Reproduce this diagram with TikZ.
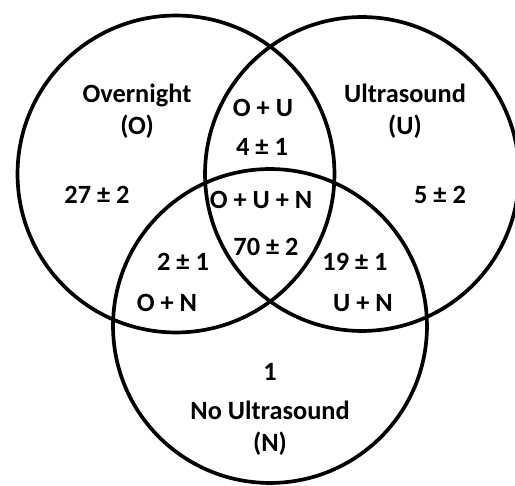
\documentclass[tikz,border=0pt]{standalone}
\usepackage{fontspec}
\setmainfont{Carlito}
\tikzset{
    setlabel/.style={font=\fontsize{15}{18}\selectfont\bfseries, align=center, inner sep=0pt},
    setline/.style={line width=2.1pt}
}
\begin{document}
\begin{tikzpicture}[x=0.02cm, y=-0.02cm]
    \useasboundingbox (0,0) rectangle (515,486);
    \clip (0,0) rectangle (515,486);
    % The three sets
    \draw[setline] (176,174) circle[radius=3.17cm];
    \draw[setline] (362,174) circle[radius=3.14cm];
    \draw[setline] (270,326) circle[radius=3.14cm];
    % Set names
    \node[setlabel] (over) at (137,111) {Overnight\\(O)};
    \node[setlabel] (ultra) at (405,111) {Ultrasound\\(U)};
    \node[setlabel] (none) at (270,428) {No Ultrasound\\(N)};
    % Counts, one set only
    \node[setlabel] (onlyO) at (97,195) {27 ± 2};
    \node[setlabel] (onlyU) at (440,195) {5 ± 2};
    \node[setlabel] (onlyN) at (270,372) {1};
    % Overlaps
    \node[setlabel] (OU) at (263,108) {O + U};
    \node[setlabel] (OUval) at (262,147) {4 ± 1};
    \node[setlabel] (OUN) at (261,200) {O + U + N};
    \node[setlabel] (OUNval) at (266,247) {70 ± 2};
    \node[setlabel] (ONval) at (183,262) {2 ± 1};
    \node[setlabel] (ON) at (167,303) {O + N};
    \node[setlabel] (UNval) at (355,262) {19 ± 1};
    \node[setlabel] (UN) at (363,303) {U + N};
\end{tikzpicture}
\end{document}
